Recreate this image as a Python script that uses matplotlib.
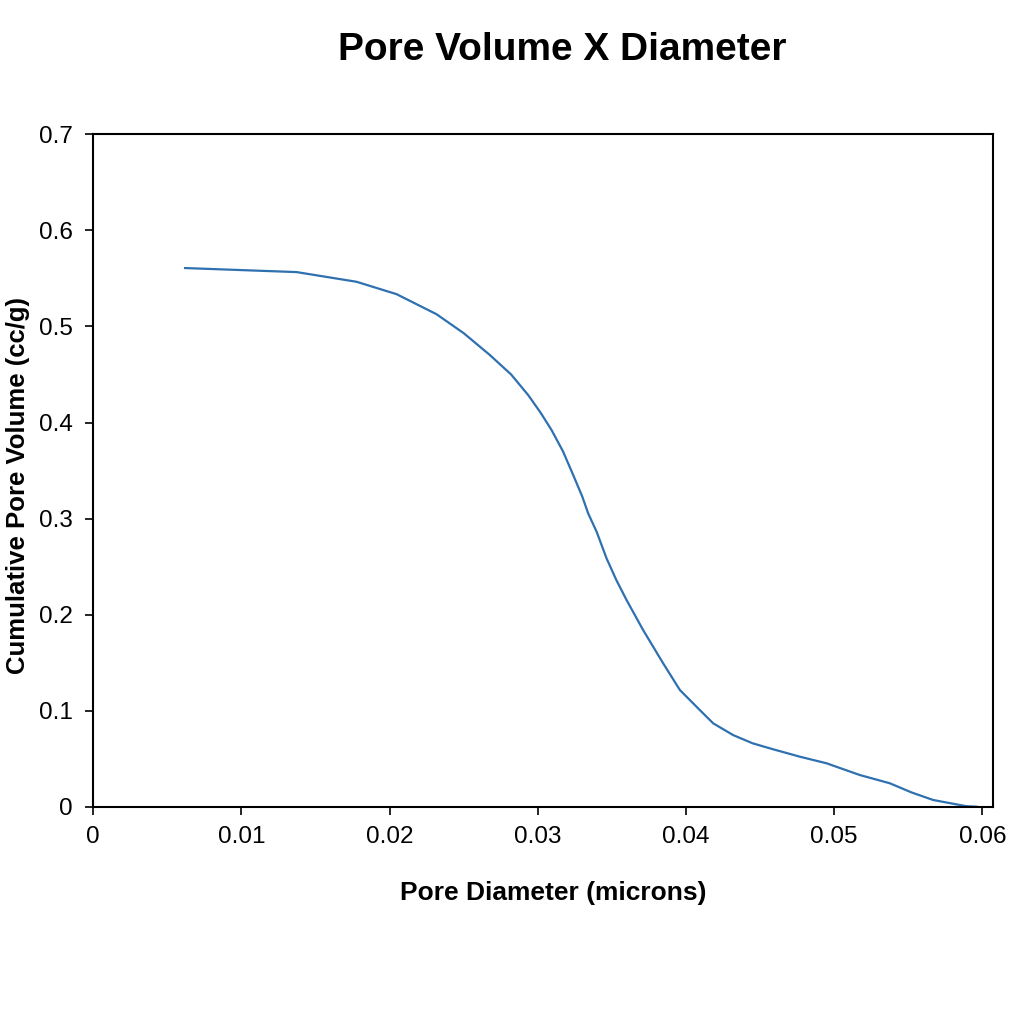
import matplotlib
matplotlib.use("Agg")
import matplotlib.pyplot as plt

plt.rcParams['font.family'] = ['Liberation Sans', 'DejaVu Sans']

diameter = [0.00620, 0.01372, 0.01777, 0.02047, 0.02317, 0.02500, 0.02677, 0.02820, 0.02935,
            0.03020, 0.03093, 0.03170, 0.03239, 0.03300, 0.03340, 0.03397, 0.03464, 0.03530,
            0.03599, 0.03711, 0.03846, 0.03959, 0.04093, 0.04184, 0.04318, 0.04450, 0.04588,
            0.04768, 0.04949, 0.05173, 0.05376, 0.05520, 0.05668, 0.05893, 0.05961]
volume = [0.5608, 0.5566, 0.5465, 0.5336, 0.5127, 0.4930, 0.4702, 0.4500, 0.4286,
          0.4100, 0.3921, 0.3700, 0.3453, 0.3230, 0.3054, 0.2863, 0.2586, 0.2360,
          0.2152, 0.1839, 0.1493, 0.1215, 0.1007, 0.0868, 0.0746, 0.0660, 0.0598,
          0.0521, 0.0452, 0.0330, 0.0244, 0.0150, 0.0070, 0.0005, 0.0]

x_ticks = [0, 0.01, 0.02, 0.03, 0.04, 0.05, 0.06]
x_tick_labels = ["0", "0.01", "0.02", "0.03", "0.04", "0.05", "0.06"]
y_ticks = [0, 0.1, 0.2, 0.3, 0.4, 0.5, 0.6, 0.7]
y_tick_labels = ["0", "0.1", "0.2", "0.3", "0.4", "0.5", "0.6", "0.7"]

fig = plt.figure(figsize=(10.24, 10.24), dpi=100)
ax = fig.add_axes([0.0911, 0.2122, 0.8783, 0.6566])

ax.plot(diameter, volume, color='#2e70b0', linewidth=1.6)

ax.set_xlim(0, 0.0607)
ax.set_ylim(0, 0.7)
ax.set_xticks(x_ticks)
ax.set_xticklabels(x_tick_labels)
ax.set_yticks(y_ticks)
ax.set_yticklabels(y_tick_labels)
ax.tick_params(axis='both', direction='out', length=6, width=1.2, labelsize=17.5, colors='black')
ax.tick_params(axis='x', pad=8)
ax.tick_params(axis='y', pad=9)
for s in ax.spines.values():
    s.set_linewidth(1.5)
    s.set_color('black')

xl = ax.set_xlabel("Pore Diameter (microns)", fontsize=19, fontweight='bold')
yl = ax.set_ylabel("Cumulative Pore Volume (cc/g)", fontsize=18.5, fontweight='bold')
ax.xaxis.set_label_coords(0.511, -0.128)
xl.set_va('center')
ax.yaxis.set_label_coords(-0.0837, 0.477)
yl.set_va('center')
fig.text(0.549, 0.951, "Pore Volume X Diameter", fontsize=28, fontweight='bold',
         ha='center', va='center')

fig.savefig("out.png", dpi=100, facecolor='white')
